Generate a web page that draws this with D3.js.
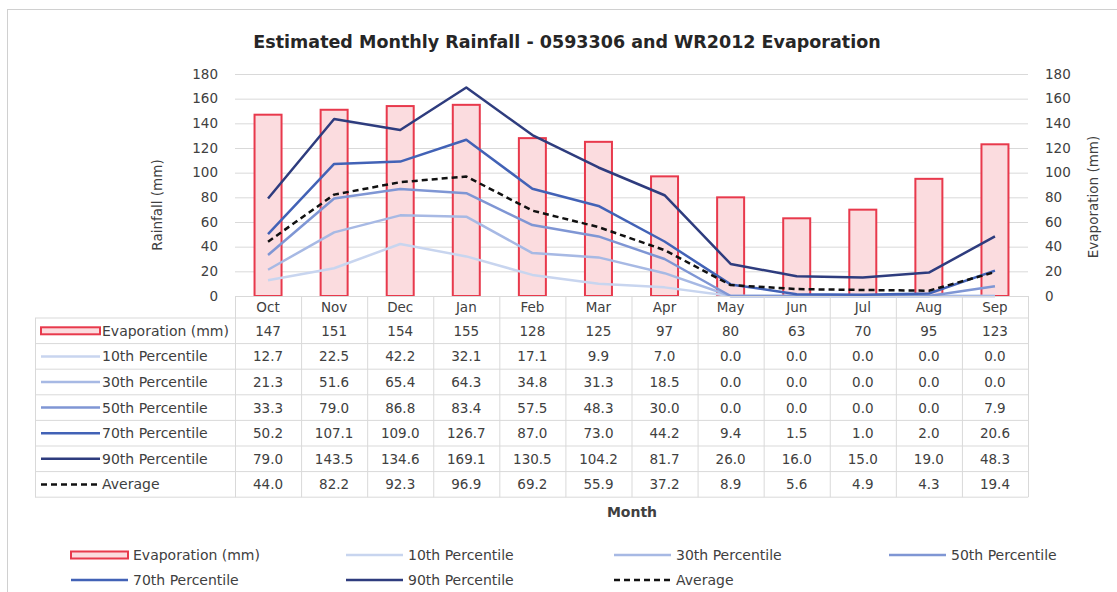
<!DOCTYPE html>
<html><head><meta charset="utf-8">
<script src="https://cdn.jsdelivr.net/npm/d3@7"></script>
<style>body{margin:0;background:#fff}svg{display:block}text{font-family:"DejaVu Sans",sans-serif}</style>
</head><body><svg id="c" width="1117" height="592"></svg>
<script>
const months = ["Oct","Nov","Dec","Jan","Feb","Mar","Apr","May","Jun","Jul","Aug","Sep"];
const evaporation = [147,151,154,155,128,125,97,80,63,70,95,123];
const p10 = [12.7,22.5,42.2,32.1,17.1,9.9,7.0,0.0,0.0,0.0,0.0,0.0];
const p30 = [21.3,51.6,65.4,64.3,34.8,31.3,18.5,0.0,0.0,0.0,0.0,0.0];
const p50 = [33.3,79.0,86.8,83.4,57.5,48.3,30.0,0.0,0.0,0.0,0.0,7.9];
const p70 = [50.2,107.1,109.0,126.7,87.0,73.0,44.2,9.4,1.5,1.0,2.0,20.6];
const p90 = [79.0,143.5,134.6,169.1,130.5,104.2,81.7,26.0,16.0,15.0,19.0,48.3];
const average = [44.0,82.2,92.3,96.9,69.2,55.9,37.2,8.9,5.6,4.9,4.3,19.4];
const yTicks = [0,20,40,60,80,100,120,140,160,180];
const title = "Estimated Monthly Rainfall - 0593306 and WR2012 Evaporation";

const lineSeries = [
  {name:"10th Percentile", values:p10, color:"#c8d5ef", dash:null, fmt:d=>d.toFixed(1)},
  {name:"30th Percentile", values:p30, color:"#a7b9e4", dash:null, fmt:d=>d.toFixed(1)},
  {name:"50th Percentile", values:p50, color:"#7f96d4", dash:null, fmt:d=>d.toFixed(1)},
  {name:"70th Percentile", values:p70, color:"#4262b6", dash:null, fmt:d=>d.toFixed(1)},
  {name:"90th Percentile", values:p90, color:"#2e3c7e", dash:null, fmt:d=>d.toFixed(1)},
  {name:"Average", values:average, color:"#111111", dash:"6,4", fmt:d=>d.toFixed(1)}
];
const barColor = {fill:"#fbdcdf", stroke:"#e8394c"};

const svg = d3.select("#c");
const L = 235, R = 1028, Y0 = 296, YT = 74;
const x = d3.scaleBand().domain(months).range([L, R]).padding(0);
const y = d3.scaleLinear().domain([0,180]).range([Y0, YT]);
const grid = "#d9d9d9", txt = "#404040";
const FS = 13.5;

svg.append("rect").attr("x",7.5).attr("y",9.5).attr("width",1130).attr("height",600)
  .attr("fill","#fff").attr("stroke","#d0d0d0");

svg.append("text").attr("x",567).attr("y",48).attr("text-anchor","middle")
  .attr("font-size",17.5).attr("font-weight","bold").attr("fill","#262626").text(title);

// gridlines
svg.append("g").selectAll("line").data(yTicks.filter(d=>d>0)).join("line")
  .attr("x1",L).attr("x2",R).attr("y1",d=>y(d)+0.5).attr("y2",d=>y(d)+0.5)
  .attr("stroke",grid);

// axes
const yl = svg.append("g").attr("transform",`translate(${L-13},0)`)
  .call(d3.axisLeft(y).tickValues(yTicks).tickSize(0).tickPadding(4));
const yr = svg.append("g").attr("transform",`translate(${R+13},0)`)
  .call(d3.axisRight(y).tickValues(yTicks).tickSize(0).tickPadding(4));
[yl,yr].forEach(g=>{g.select(".domain").remove();
  g.selectAll("text").attr("font-size",13.5).attr("fill",txt).attr("font-family","DejaVu Sans, sans-serif");});

svg.append("text").attr("transform","translate(162,205) rotate(-90)").attr("text-anchor","middle")
  .attr("font-size",13.5).attr("fill",txt).text("Rainfall (mm)");
svg.append("text").attr("transform","translate(1098,197) rotate(-90)").attr("text-anchor","middle")
  .attr("font-size",13.5).attr("fill",txt).text("Evaporation (mm)");

// bars
const bw = 27;
svg.append("g").selectAll("rect").data(evaporation).join("rect")
  .attr("x",(d,i)=>x(months[i])+x.bandwidth()/2-bw/2)
  .attr("y",d=>y(d)).attr("width",bw).attr("height",d=>Y0-y(d))
  .attr("fill",barColor.fill).attr("stroke",barColor.stroke).attr("stroke-width",2);

// lines
const line = d3.line().x((d,i)=>x(months[i])+x.bandwidth()/2).y(d=>y(d));
lineSeries.forEach(s=>{
  svg.append("path").datum(s.values).attr("d",line).attr("fill","none")
    .attr("stroke",s.color).attr("stroke-width",2.5).attr("stroke-linejoin","round")
    .attr("stroke-dasharray",s.dash);
});

// data table
const rowH = 25.6, hdrTop = Y0, hdrBot = 318, KL = 35;
const rows = [{name:"Evaporation (mm)", values:evaporation, bar:true, fmt:d=>String(d)}].concat(lineSeries);
const tb = svg.append("g");
const tableBot = hdrBot + rows.length*rowH;
tb.append("line").attr("x1",L).attr("x2",R).attr("y1",hdrTop+0.5).attr("y2",hdrTop+0.5).attr("stroke",grid);
for(let i=0;i<=rows.length;i++){
  tb.append("line").attr("x1",KL).attr("x2",R).attr("y1",hdrBot+i*rowH).attr("y2",hdrBot+i*rowH).attr("stroke",grid);
}
months.forEach((m,i)=>{
  tb.append("line").attr("x1",x(m)+0.5).attr("x2",x(m)+0.5).attr("y1",hdrTop).attr("y2",tableBot).attr("stroke",grid);
});
tb.append("line").attr("x1",R+0.5).attr("x2",R+0.5).attr("y1",hdrTop).attr("y2",tableBot).attr("stroke",grid);
tb.append("line").attr("x1",KL+0.5).attr("x2",KL+0.5).attr("y1",hdrBot).attr("y2",tableBot).attr("stroke",grid);

tb.selectAll(".mh").data(months).join("text").attr("class","mh")
  .attr("x",d=>x(d)+x.bandwidth()/2).attr("y",(hdrTop+hdrBot)/2+5).attr("text-anchor","middle")
  .attr("font-size",FS).attr("fill",txt).text(d=>d);

function symbol(g, s, x0, x1, cy){
  if(s.bar){
    g.append("rect").attr("x",x0).attr("y",cy-3.5).attr("width",x1-x0).attr("height",7)
      .attr("fill",barColor.fill).attr("stroke",barColor.stroke).attr("stroke-width",2);
  } else {
    g.append("line").attr("x1",x0).attr("x2",x1).attr("y1",cy).attr("y2",cy)
      .attr("stroke",s.color).attr("stroke-width",2.5).attr("stroke-dasharray",s.dash);
  }
}
rows.forEach((s,r)=>{
  const cy = hdrBot + r*rowH + rowH/2;
  symbol(tb, s, 41, 100, cy);
  tb.append("text").attr("x",102).attr("y",cy+5).attr("font-size",14).attr("fill",txt).text(s.name);
  s.values.forEach((v,i)=>{
    tb.append("text").attr("x",x(months[i])+x.bandwidth()/2).attr("y",cy+5).attr("text-anchor","middle")
      .attr("font-size",FS).attr("fill",txt).text(s.fmt(v));
  });
});

svg.append("text").attr("x",632).attr("y",517).attr("text-anchor","middle")
  .attr("font-size",14).attr("font-weight","bold").attr("fill",txt).text("Month");

// legend
const lg = svg.append("g");
const lx = [71,346,614,889];
rows.forEach((s,i)=>{
  const col = i%4, row = Math.floor(i/4);
  const cy = 555 + row*25;
  symbol(lg, s, lx[col], lx[col]+57, cy);
  lg.append("text").attr("x",lx[col]+62).attr("y",cy+5).attr("font-size",14).attr("fill",txt).text(s.name);
});
</script></body></html>
